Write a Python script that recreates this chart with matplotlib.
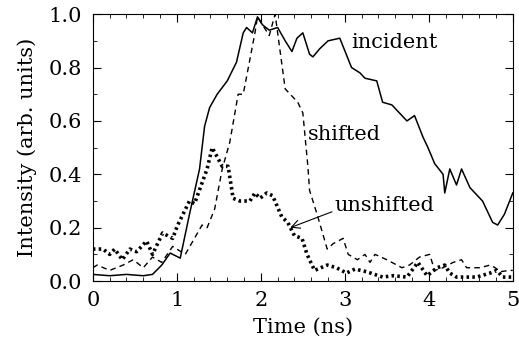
import matplotlib
matplotlib.use("Agg")
import matplotlib.pyplot as plt
from matplotlib.ticker import MultipleLocator, FormatStrFormatter

# incident pulse (solid)
t_inc = [0.0, 0.2, 0.4, 0.6, 0.71, 0.82, 0.92, 1.04, 1.15, 1.27, 1.33, 1.39, 1.48,
         1.6, 1.71, 1.79, 1.83, 1.9, 1.96, 2.02, 2.1, 2.2, 2.29, 2.37, 2.43, 2.5,
         2.58, 2.62, 2.7, 2.8, 2.94, 3.08, 3.18, 3.24, 3.38, 3.45, 3.56, 3.65, 3.74,
         3.83, 3.93, 3.99, 4.07, 4.17, 4.19, 4.25, 4.33, 4.39, 4.49, 4.64, 4.76,
         4.82, 4.9, 5.0]
i_inc = [0.025, 0.02, 0.025, 0.02, 0.025, 0.06, 0.105, 0.086, 0.25, 0.42, 0.58,
         0.65, 0.70, 0.75, 0.82, 0.93, 0.95, 0.93, 0.99, 0.96, 0.94, 0.95, 0.90,
         0.86, 0.91, 0.93, 0.85, 0.84, 0.87, 0.90, 0.91, 0.80, 0.78, 0.76, 0.75,
         0.67, 0.66, 0.63, 0.60, 0.62, 0.54, 0.50, 0.44, 0.40, 0.33, 0.42, 0.36,
         0.42, 0.35, 0.30, 0.22, 0.21, 0.25, 0.33]

# shifted (dashed)
t_sh = [0.0, 0.05, 0.2, 0.36, 0.48, 0.6, 0.71, 0.82, 0.95, 1.1, 1.3, 1.36, 1.45,
        1.54, 1.63, 1.73, 1.79, 1.93, 1.96, 2.1, 2.17, 2.29, 2.38, 2.44, 2.5, 2.56,
        2.58, 2.67, 2.79, 2.86, 2.98, 3.04, 3.15, 3.24, 3.3, 3.36, 3.5, 3.68, 3.77,
        3.89, 4.01, 4.07, 4.17, 4.29, 4.39, 4.45, 4.61, 4.73, 4.79, 4.85, 4.96, 5.0]
i_sh = [0.05, 0.06, 0.04, 0.06, 0.08, 0.05, 0.09, 0.07, 0.13, 0.10, 0.21, 0.20,
        0.27, 0.42, 0.52, 0.70, 0.70, 0.93, 0.99, 0.92, 1.0, 0.72, 0.69, 0.67,
        0.63, 0.43, 0.34, 0.25, 0.12, 0.14, 0.16, 0.10, 0.08, 0.10, 0.07, 0.10,
        0.08, 0.05, 0.06, 0.09, 0.10, 0.04, 0.05, 0.07, 0.08, 0.05, 0.05, 0.06,
        0.05, 0.035, 0.04, 0.04]

# unshifted (thick dotted)
t_un = [0.0, 0.12, 0.2, 0.26, 0.35, 0.44, 0.52, 0.64, 0.71, 0.83, 0.95, 1.01,
        1.15, 1.21, 1.36, 1.42, 1.54, 1.61, 1.67, 1.75, 1.87, 1.93, 1.99, 2.07,
        2.14, 2.25, 2.32, 2.4, 2.49, 2.55, 2.64, 2.79, 2.9, 3.02, 3.12, 3.26, 3.45,
        3.57, 3.74, 3.87, 3.98, 4.1, 4.19, 4.25, 4.33, 4.57, 4.73, 4.81, 4.88, 5.0]
i_un = [0.12, 0.12, 0.10, 0.12, 0.08, 0.12, 0.11, 0.15, 0.10, 0.18, 0.16, 0.21,
        0.30, 0.29, 0.42, 0.50, 0.43, 0.43, 0.31, 0.30, 0.30, 0.33, 0.31, 0.33,
        0.32, 0.24, 0.22, 0.17, 0.16, 0.10, 0.04, 0.06, 0.05, 0.03, 0.045, 0.035,
        0.015, 0.02, 0.015, 0.07, 0.02, 0.05, 0.06, 0.03, 0.015, 0.015, 0.03,
        0.04, 0.015, 0.015]

plt.rcParams['font.family'] = ['DejaVu Serif']
FS = 15

fig = plt.figure(figsize=(5.19, 3.54), dpi=100)
ax = fig.add_axes([0.179, 0.206, 0.809, 0.754])

ax.plot(t_inc, i_inc, color='black', lw=1.1)
ax.plot(t_sh, i_sh, color='black', lw=1.0, ls=(0, (4, 3)))
ax.plot(t_un, i_un, color='black', lw=2.6, ls=(0, (0.7, 0.9)))

ax.set_xlim(0, 5)
ax.set_ylim(0, 1.0)
ax.xaxis.set_major_locator(MultipleLocator(1))
ax.xaxis.set_minor_locator(MultipleLocator(0.2))
ax.yaxis.set_major_locator(MultipleLocator(0.2))
ax.yaxis.set_minor_locator(MultipleLocator(0.1))
ax.yaxis.set_major_formatter(FormatStrFormatter('%.1f'))
ax.tick_params(which='both', direction='in', top=True, right=True, labelsize=FS)
ax.tick_params(which='major', length=6)
ax.tick_params(which='minor', length=3)
ax.tick_params(axis='x', pad=7)
ax.tick_params(axis='y', pad=8)

ax.set_xlabel('Time (ns)', fontsize=FS, labelpad=6)
ax.set_ylabel('Intensity (arb. units)', fontsize=FS, labelpad=8)

ax.text(3.08, 0.895, 'incident', fontsize=FS, va='center')
ax.text(2.56, 0.55, 'shifted', fontsize=FS, va='center')
ax.annotate('unshifted', xy=(2.35, 0.2), xytext=(2.88, 0.285), fontsize=FS,
            va='center', arrowprops=dict(arrowstyle='->', color='black', lw=0.8,
                                         shrinkA=0, shrinkB=0,
                                         relpos=(0, 0.2)))

fig.savefig('out.png', dpi=100)
